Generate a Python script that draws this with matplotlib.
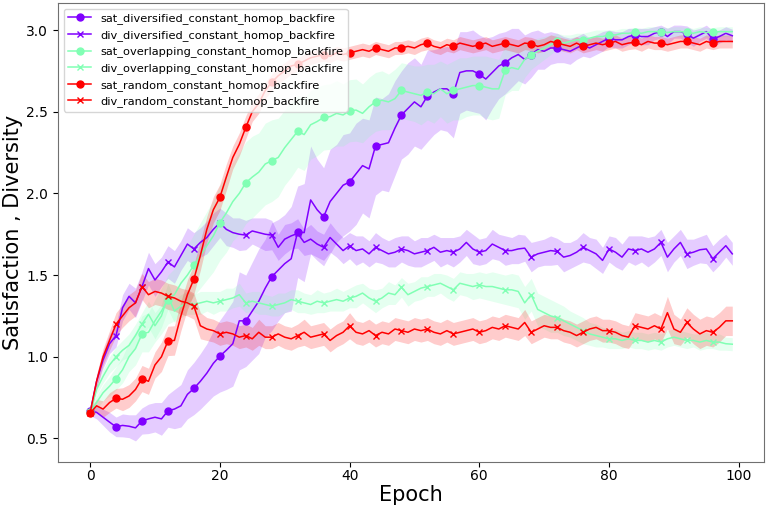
import numpy as np
import matplotlib
matplotlib.use("Agg")
import matplotlib.pyplot as plt

epochs = np.arange(100)

labels = [
    "sat_diversified_constant_homop_backfire",
    "div_diversified_constant_homop_backfire",
    "sat_overlapping_constant_homop_backfire",
    "div_overlapping_constant_homop_backfire",
    "sat_random_constant_homop_backfire",
    "div_random_constant_homop_backfire",
]

sat_diversified = [
    0.67, 0.66, 0.63, 0.60, 0.571, 0.58, 0.575, 0.565, 0.607, 0.62,
    0.63, 0.62, 0.669, 0.68, 0.70, 0.77, 0.806, 0.85, 0.90, 0.96,
    1.004, 1.04, 1.08, 1.22, 1.22, 1.28, 1.34, 1.42, 1.49, 1.53,
    1.57, 1.60, 1.765, 1.76, 1.96, 1.90, 1.857, 1.95, 2.00, 2.05,
    2.07, 2.12, 2.17, 2.15, 2.29, 2.30, 2.31, 2.40, 2.48, 2.52,
    2.56, 2.53, 2.596, 2.62, 2.64, 2.64, 2.61, 2.74, 2.75, 2.75,
    2.73, 2.70, 2.74, 2.78, 2.80, 2.83, 2.85, 2.82, 2.85, 2.88,
    2.87, 2.89, 2.89, 2.88, 2.87, 2.89, 2.91, 2.89, 2.91, 2.93,
    2.95, 2.94, 2.94, 2.96, 2.97, 2.96, 2.96, 2.98, 2.99, 2.96,
    2.99, 2.99, 2.975, 2.95, 2.97, 2.99, 2.945, 2.96, 2.98, 2.965,
]
div_diversified = [
    0.66, 0.85, 0.98, 1.08, 1.13, 1.30, 1.37, 1.33, 1.43, 1.54,
    1.47, 1.52, 1.58, 1.55, 1.62, 1.69, 1.66, 1.70, 1.73, 1.78,
    1.82, 1.78, 1.76, 1.75, 1.745, 1.77, 1.76, 1.75, 1.745, 1.67,
    1.72, 1.74, 1.755, 1.70, 1.72, 1.69, 1.67, 1.73, 1.69, 1.65,
    1.68, 1.65, 1.66, 1.63, 1.67, 1.65, 1.63, 1.64, 1.66, 1.65,
    1.63, 1.64, 1.65, 1.67, 1.64, 1.65, 1.64, 1.66, 1.70, 1.66,
    1.64, 1.65, 1.69, 1.67, 1.65, 1.65, 1.66, 1.665, 1.61, 1.63,
    1.64, 1.65, 1.645, 1.61, 1.62, 1.64, 1.67, 1.65, 1.63, 1.59,
    1.66, 1.64, 1.61, 1.66, 1.65, 1.66, 1.64, 1.66, 1.70, 1.61,
    1.66, 1.70, 1.63, 1.64, 1.655, 1.66, 1.60, 1.64, 1.68, 1.63,
]
sat_overlapping = [
    0.66, 0.72, 0.78, 0.82, 0.867, 0.92, 1.00, 1.05, 1.14, 1.15,
    1.22, 1.28, 1.35, 1.38, 1.45, 1.50, 1.56, 1.62, 1.68, 1.74,
    1.82, 1.88, 1.95, 2.00, 2.065, 2.10, 2.13, 2.18, 2.20, 2.22,
    2.28, 2.33, 2.38, 2.36, 2.42, 2.44, 2.465, 2.47, 2.49, 2.48,
    2.506, 2.51, 2.49, 2.53, 2.56, 2.57, 2.56, 2.58, 2.63, 2.62,
    2.61, 2.60, 2.62, 2.61, 2.64, 2.61, 2.63, 2.64, 2.65, 2.66,
    2.66, 2.65, 2.64, 2.64, 2.755, 2.77, 2.76, 2.82, 2.85, 2.87,
    2.89, 2.91, 2.93, 2.92, 2.93, 2.94, 2.94, 2.95, 2.96, 2.96,
    2.97, 2.97, 2.98, 2.98, 2.985, 2.98, 2.99, 2.99, 2.99, 2.985,
    2.99, 2.99, 2.985, 2.98, 2.99, 2.985, 2.985, 2.99, 2.99, 2.99,
]
div_overlapping = [
    0.66, 0.80, 0.88, 0.95, 1.00, 1.04, 1.07, 1.13, 1.20, 1.26,
    1.19, 1.25, 1.37, 1.28, 1.31, 1.33, 1.32, 1.33, 1.34, 1.33,
    1.34, 1.35, 1.36, 1.38, 1.33, 1.34, 1.33, 1.32, 1.31, 1.32,
    1.33, 1.35, 1.34, 1.33, 1.32, 1.34, 1.33, 1.34, 1.35, 1.34,
    1.36, 1.37, 1.39, 1.36, 1.34, 1.36, 1.39, 1.38, 1.425, 1.38,
    1.40, 1.42, 1.43, 1.44, 1.45, 1.43, 1.41, 1.45, 1.44, 1.43,
    1.44, 1.43, 1.43, 1.42, 1.41, 1.41, 1.40, 1.33, 1.38, 1.29,
    1.27, 1.25, 1.24, 1.22, 1.20, 1.18, 1.16, 1.14, 1.13, 1.12,
    1.11, 1.11, 1.10, 1.11, 1.10, 1.10, 1.09, 1.10, 1.09, 1.11,
    1.12, 1.11, 1.10, 1.10, 1.09, 1.10, 1.09, 1.09, 1.08, 1.077,
]
sat_random = [
    0.655, 0.70, 0.68, 0.72, 0.746, 0.74, 0.76, 0.80, 0.867, 0.85,
    0.95, 1.00, 1.097, 1.10, 1.25, 1.38, 1.475, 1.62, 1.78, 1.90,
    1.975, 2.10, 2.22, 2.30, 2.404, 2.50, 2.55, 2.63, 2.68, 2.72,
    2.75, 2.78, 2.79, 2.81, 2.83, 2.84, 2.85, 2.84, 2.86, 2.85,
    2.86, 2.87, 2.88, 2.87, 2.89, 2.88, 2.87, 2.89, 2.89, 2.90,
    2.89, 2.91, 2.92, 2.90, 2.89, 2.91, 2.90, 2.92, 2.91, 2.90,
    2.91, 2.92, 2.90, 2.91, 2.92, 2.91, 2.90, 2.92, 2.915, 2.90,
    2.91, 2.93, 2.92, 2.91, 2.90, 2.92, 2.90, 2.91, 2.92, 2.91,
    2.92, 2.93, 2.91, 2.92, 2.925, 2.91, 2.93, 2.92, 2.92, 2.91,
    2.92, 2.93, 2.93, 2.92, 2.91, 2.93, 2.92, 2.93, 2.93, 2.93,
]
div_random = [
    0.655, 0.85, 1.00, 1.10, 1.20, 1.25, 1.30, 1.33, 1.43, 1.38,
    1.40, 1.39, 1.37, 1.36, 1.34, 1.33, 1.31, 1.19, 1.17, 1.16,
    1.14, 1.15, 1.14, 1.12, 1.13, 1.11, 1.15, 1.12, 1.12, 1.14,
    1.12, 1.11, 1.13, 1.15, 1.12, 1.13, 1.14, 1.10, 1.13, 1.15,
    1.19, 1.15, 1.14, 1.16, 1.13, 1.15, 1.14, 1.17, 1.16, 1.15,
    1.17, 1.16, 1.17, 1.15, 1.14, 1.16, 1.14, 1.15, 1.16, 1.17,
    1.15, 1.16, 1.18, 1.17, 1.19, 1.18, 1.17, 1.21, 1.15, 1.17,
    1.19, 1.18, 1.18, 1.16, 1.15, 1.13, 1.15, 1.17, 1.18, 1.16,
    1.16, 1.15, 1.13, 1.12, 1.19, 1.18, 1.17, 1.19, 1.17, 1.27,
    1.17, 1.15, 1.21, 1.17, 1.14, 1.16, 1.15, 1.18, 1.22, 1.22,
]

# spread (std) of each series
std_sat_diversified = [
    0.03, 0.04, 0.05, 0.06, 0.06, 0.07, 0.07, 0.08, 0.08, 0.09,
    0.09, 0.10, 0.10, 0.12, 0.13, 0.15, 0.16, 0.17, 0.18, 0.20,
    0.22, 0.24, 0.26, 0.30, 0.28, 0.30, 0.32, 0.30, 0.33, 0.31,
    0.30, 0.32, 0.28, 0.30, 0.33, 0.31, 0.30, 0.32, 0.30, 0.31,
    0.30, 0.31, 0.29, 0.30, 0.30, 0.28, 0.30, 0.29, 0.27, 0.28,
    0.27, 0.26, 0.28, 0.26, 0.25, 0.26, 0.27, 0.25, 0.24, 0.25,
    0.24, 0.25, 0.22, 0.20, 0.19, 0.18, 0.16, 0.15, 0.14, 0.12,
    0.11, 0.10, 0.09, 0.08, 0.08, 0.07, 0.07, 0.06, 0.06, 0.06,
    0.05, 0.05, 0.05, 0.05, 0.04, 0.05, 0.05, 0.04, 0.04, 0.05,
    0.04, 0.04, 0.05, 0.05, 0.04, 0.04, 0.05, 0.04, 0.04, 0.04,
]
std_div_diversified = [
    0.02, 0.04, 0.05, 0.06, 0.07, 0.08, 0.08, 0.09, 0.09, 0.10,
    0.10, 0.09, 0.10, 0.10, 0.09, 0.10, 0.10, 0.09, 0.10, 0.10,
    0.09, 0.10, 0.09, 0.10, 0.09, 0.08, 0.09, 0.10, 0.09, 0.08,
    0.09, 0.08, 0.09, 0.08, 0.09, 0.08, 0.08, 0.09, 0.08, 0.08,
    0.08, 0.09, 0.08, 0.08, 0.09, 0.08, 0.08, 0.09, 0.08, 0.09,
    0.08, 0.09, 0.08, 0.08, 0.09, 0.08, 0.09, 0.08, 0.08, 0.09,
    0.08, 0.08, 0.09, 0.08, 0.09, 0.08, 0.09, 0.08, 0.09, 0.08,
    0.08, 0.09, 0.08, 0.09, 0.08, 0.08, 0.09, 0.08, 0.09, 0.08,
    0.08, 0.09, 0.08, 0.08, 0.09, 0.08, 0.09, 0.08, 0.08, 0.09,
    0.08, 0.08, 0.09, 0.08, 0.08, 0.09, 0.08, 0.08, 0.07, 0.07,
]
std_sat_overlapping = [
    0.03, 0.04, 0.05, 0.06, 0.07, 0.08, 0.09, 0.10, 0.11, 0.12,
    0.13, 0.14, 0.15, 0.16, 0.17, 0.18, 0.19, 0.20, 0.21, 0.22,
    0.23, 0.24, 0.24, 0.25, 0.25, 0.25, 0.24, 0.25, 0.25, 0.24,
    0.23, 0.23, 0.22, 0.22, 0.21, 0.21, 0.20, 0.20, 0.20, 0.19,
    0.19, 0.19, 0.18, 0.18, 0.18, 0.18, 0.17, 0.18, 0.17, 0.17,
    0.17, 0.18, 0.17, 0.18, 0.17, 0.18, 0.18, 0.19, 0.18, 0.18,
    0.18, 0.19, 0.19, 0.18, 0.15, 0.14, 0.13, 0.11, 0.09, 0.08,
    0.07, 0.06, 0.05, 0.05, 0.04, 0.04, 0.04, 0.04, 0.04, 0.04,
    0.03, 0.03, 0.03, 0.03, 0.03, 0.03, 0.03, 0.03, 0.03, 0.03,
    0.03, 0.03, 0.03, 0.03, 0.03, 0.03, 0.03, 0.03, 0.03, 0.03,
]
std_div_overlapping = [
    0.02, 0.03, 0.04, 0.05, 0.06, 0.06, 0.07, 0.07, 0.07, 0.08,
    0.08, 0.07, 0.08, 0.07, 0.07, 0.07, 0.06, 0.07, 0.06, 0.07,
    0.06, 0.07, 0.06, 0.07, 0.06, 0.06, 0.07, 0.06, 0.06, 0.07,
    0.06, 0.06, 0.07, 0.06, 0.06, 0.07, 0.06, 0.06, 0.07, 0.06,
    0.06, 0.07, 0.06, 0.06, 0.07, 0.06, 0.07, 0.06, 0.06, 0.07,
    0.06, 0.07, 0.06, 0.07, 0.06, 0.07, 0.07, 0.07, 0.07, 0.08,
    0.08, 0.08, 0.09, 0.09, 0.09, 0.10, 0.10, 0.10, 0.10, 0.10,
    0.10, 0.10, 0.09, 0.09, 0.08, 0.08, 0.08, 0.07, 0.07, 0.06,
    0.06, 0.06, 0.05, 0.05, 0.05, 0.05, 0.05, 0.05, 0.05, 0.05,
    0.05, 0.05, 0.05, 0.04, 0.05, 0.05, 0.04, 0.05, 0.04, 0.04,
]
std_sat_random = [
    0.03, 0.04, 0.05, 0.06, 0.06, 0.07, 0.07, 0.07, 0.08, 0.08,
    0.08, 0.09, 0.09, 0.09, 0.09, 0.09, 0.09, 0.09, 0.08, 0.08,
    0.08, 0.08, 0.07, 0.07, 0.07, 0.06, 0.06, 0.05, 0.05, 0.05,
    0.05, 0.05, 0.04, 0.04, 0.04, 0.04, 0.04, 0.04, 0.04, 0.04,
    0.04, 0.04, 0.04, 0.04, 0.04, 0.04, 0.04, 0.04, 0.04, 0.04,
    0.04, 0.04, 0.04, 0.04, 0.04, 0.04, 0.04, 0.04, 0.04, 0.04,
    0.04, 0.04, 0.04, 0.04, 0.04, 0.04, 0.04, 0.04, 0.04, 0.04,
    0.04, 0.04, 0.04, 0.04, 0.04, 0.04, 0.04, 0.04, 0.04, 0.04,
    0.04, 0.04, 0.04, 0.04, 0.04, 0.04, 0.04, 0.04, 0.04, 0.04,
    0.04, 0.04, 0.04, 0.04, 0.04, 0.04, 0.04, 0.04, 0.04, 0.04,
]
std_div_random = [
    0.02, 0.04, 0.05, 0.06, 0.07, 0.07, 0.08, 0.08, 0.08, 0.08,
    0.08, 0.08, 0.08, 0.08, 0.08, 0.08, 0.08, 0.08, 0.07, 0.07,
    0.07, 0.07, 0.07, 0.07, 0.07, 0.07, 0.08, 0.07, 0.07, 0.07,
    0.07, 0.07, 0.07, 0.08, 0.07, 0.07, 0.07, 0.07, 0.07, 0.07,
    0.08, 0.07, 0.07, 0.07, 0.07, 0.07, 0.07, 0.07, 0.07, 0.07,
    0.07, 0.07, 0.07, 0.07, 0.07, 0.07, 0.07, 0.07, 0.07, 0.07,
    0.07, 0.07, 0.07, 0.07, 0.07, 0.07, 0.07, 0.08, 0.07, 0.07,
    0.07, 0.07, 0.07, 0.07, 0.07, 0.07, 0.07, 0.07, 0.07, 0.07,
    0.07, 0.07, 0.07, 0.07, 0.08, 0.08, 0.08, 0.08, 0.08, 0.10,
    0.09, 0.08, 0.09, 0.09, 0.09, 0.09, 0.09, 0.09, 0.09, 0.09,
]

means = [sat_diversified, div_diversified, sat_overlapping,
         div_overlapping, sat_random, div_random]
stds = [std_sat_diversified, std_div_diversified, std_sat_overlapping,
        std_div_overlapping, std_sat_random, std_div_random]

colors = plt.cm.rainbow(np.linspace(0, 1, 3))

fig = plt.figure(figsize=(7.67, 5.09), dpi=100)
ax = fig.add_axes([0.0756, 0.092, 0.921, 0.902])

for i, (lab, m, s) in enumerate(zip(labels, means, stds)):
    c = colors[i // 2]
    m = np.array(m)
    s = np.array(s)
    mk = "o" if i % 2 == 0 else "x"
    ax.plot(epochs, m, color=c, marker=mk, markevery=4, markersize=5,
            linewidth=1.1, label=lab)
    ax.fill_between(epochs, m - s, m + s, color=c, alpha=0.2, linewidth=0)

ax.set_xlabel("Epoch", fontsize=15, labelpad=1)
ax.set_ylabel("Satisfaction , Diversity", fontsize=15, labelpad=2)
ax.tick_params(labelsize=10)
ax.tick_params(axis="x", pad=1.5)
ax.set_xlim(-4.95, 103.95)
ax.set_ylim(0.355, 3.165)
ax.legend(loc="upper left", fontsize=8.2)
for sp in ax.spines.values():
    sp.set_color("#707070")

fig.savefig("out.png", dpi=100)
